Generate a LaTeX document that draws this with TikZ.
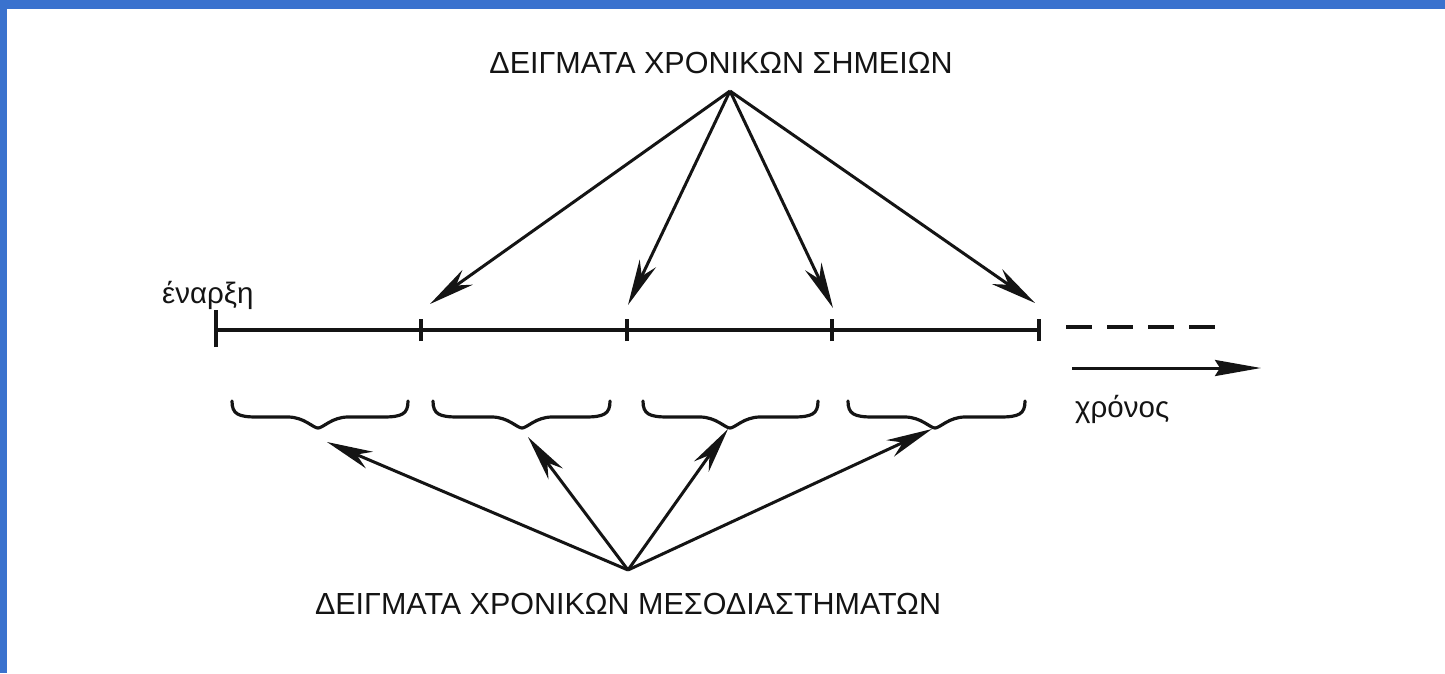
\documentclass[tikz,border=0pt]{standalone}
\usepackage{fontspec}
\setmainfont{Liberation Sans}
\usetikzlibrary{arrows.meta}
\definecolor{frameblue}{RGB}{58,114,206}
\definecolor{ink}{RGB}{20,20,20}
\tikzset{
  lbl/.style={inner sep=0pt, text=ink, font=\fontsize{30.5}{36}\selectfont},
  small/.style={inner sep=0pt, text=ink, font=\fontsize{29.5}{34}\selectfont},
  axis/.style={draw=ink, line width=4.2pt},
  tick/.style={draw=ink, line width=3.4pt},
  ptr/.style={draw=ink, line width=3pt, -{Stealth[length=46pt,width=18pt,inset=14pt]}},
  brace/.style={draw=ink, line width=3.2pt, line cap=round},
  dashpart/.style={draw=ink, line width=4.6pt, dash pattern=on 26pt off 15pt},
}
\begin{document}
\begin{tikzpicture}[x=1pt,y=-1pt]
\useasboundingbox (0,0) rectangle (1445,673);
\fill[white] (0,0) rectangle (1445,673);
\fill[frameblue] (0,0) rectangle (7,673);
\fill[frameblue] (0,0) rectangle (1445,9);

% time line
\coordinate (s0) at (216,330);
\coordinate (s1) at (421,330);
\coordinate (s2) at (627,330);
\coordinate (s3) at (832,330);
\coordinate (s4) at (1039,330);
\coordinate (dstart) at (1066,327);
\coordinate (dend) at (1215,327);
\draw[axis] (s0) -- (s4);
\draw[tick] ([yshift=-17pt]s0) -- ([yshift=20pt]s0);
\foreach \i in {1,2,3,4} \draw[tick] ([yshift=-11pt]s\i) -- ([yshift=11pt]s\i);
\draw[dashpart] (dstart) -- (dend);

% time arrow
\coordinate (ta0) at (1072,368);
\coordinate (ta1) at (1261,368);
\draw[draw=ink, line width=3pt, -{Stealth[length=46pt,width=16pt,inset=5pt]}] (ta0) -- (ta1);

\node[small, anchor=base west] (start) at (162,303) {έναρξη};
\node[small, anchor=base west] (time) at (1075,417) {χρόνος};

% top label and arrows
\node[lbl, anchor=base] (top) at (721,73) {ΔΕΙΓΜΑΤΑ ΧΡΟΝΙΚΩΝ ΣΗΜΕΙΩΝ};
\coordinate (tapex) at (730,91);
\coordinate (p1) at (430,304);
\coordinate (p2) at (628,305);
\coordinate (p3) at (833,308);
\coordinate (p4) at (1035,303);
\foreach \i in {1,2,3,4} \draw[ptr] (tapex) -- (p\i);

% braces
\foreach \a/\m/\b in {232/318/408, 433/522/610, 643/730/818, 848/935/1025}{
  \draw[brace] (\a,401) .. controls (\a,414) and (\a+6,417) .. (\a+25,417)
    -- (\m-30,417) .. controls (\m-14,417) and (\m-5,428) .. (\m,428)
    .. controls (\m+5,428) and (\m+14,417) .. (\m+30,417)
    -- (\b-25,417) .. controls (\b-6,417) and (\b,414) .. (\b,401);
}

% bottom label and arrows
\node[lbl, anchor=base] (bot) at (628,614) {ΔΕΙΓΜΑΤΑ ΧΡΟΝΙΚΩΝ ΜΕΣΟΔΙΑΣΤΗΜΑΤΩΝ};
\coordinate (bapex) at (628,570);
\coordinate (q1) at (327,442);
\coordinate (q2) at (528,437);
\coordinate (q3) at (728,429);
\coordinate (q4) at (932,429);
\foreach \i in {1,2,3,4} \draw[ptr] (bapex) -- (q\i);
\end{tikzpicture}
\end{document}
